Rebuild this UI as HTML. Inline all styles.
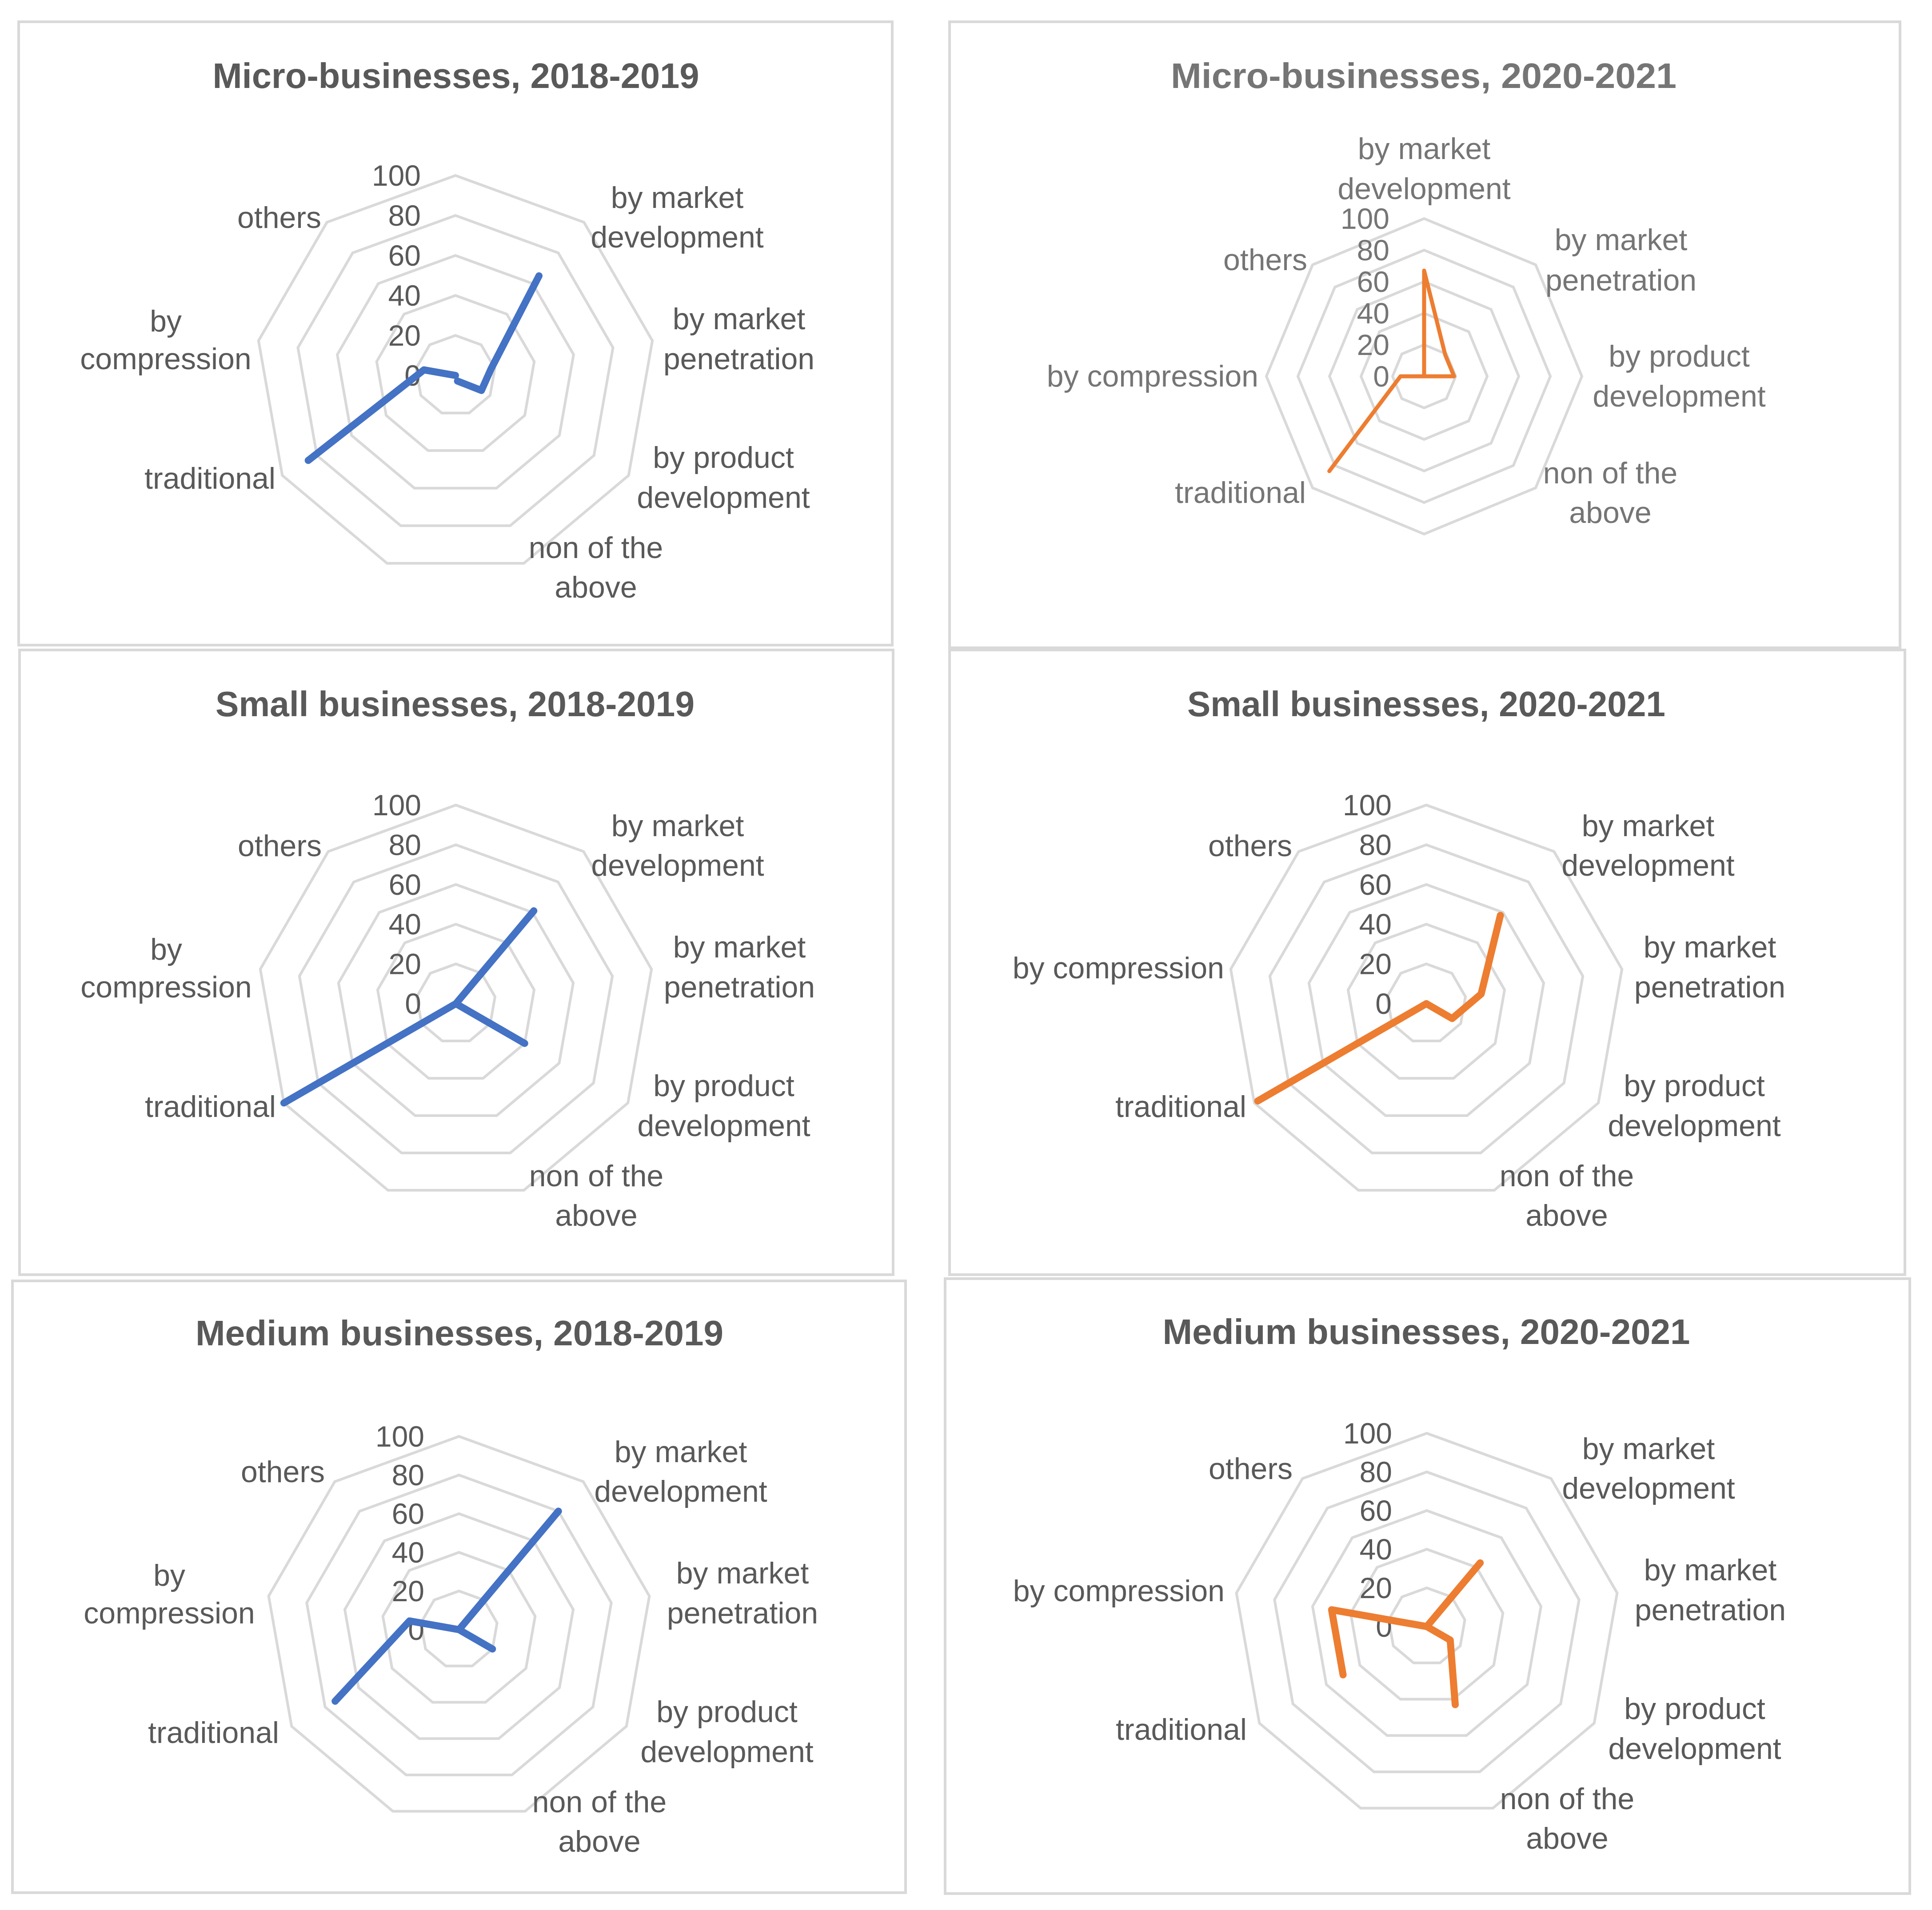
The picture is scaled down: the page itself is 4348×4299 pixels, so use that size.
<!DOCTYPE html>
<html><head><meta charset="utf-8"><style>
html,body{margin:0;padding:0;background:#fff;}
svg{display:block;}
text{font-family:"Liberation Sans",sans-serif;}
</style></head><body>
<svg id="root" width="4348" height="4299" viewBox="0 0 4348 4299" xmlns="http://www.w3.org/2000/svg"></svg>
<script>
// ---- data ----
const ticks = [0, 20, 40, 60, 80, 100];
const cats9 = ["", "by market development", "by market penetration", "by product development", "non of the above", "", "traditional", "by compression", "others"];
const cats8 = ["by market development", "by market penetration", "by product development", "non of the above", "", "traditional", "by compression", "others"];
const microA = [null, 65, 18, 15, 3, null, 85, 16, 0];
const microB = [67, 19, 19, 0, null, 85, 15, 0];
const smallA = [null, 61, 0, 40, 0, null, 100, 0, 0];
const smallB = [null, 58, 28, 15, 0, null, 98, 0, 0];
const mediumA = [null, 80, 0, 20, 0, null, 74, 26, 0];
const mediumB = [null, 43, 0, 14, 43, null, 50, 50, 0];

const NS = "http://www.w3.org/2000/svg";
const root = document.getElementById("root");
function mk(tag, attrs, parent){
  const e = document.createElementNS(NS, tag);
  for (const k in attrs) e.setAttribute(k, attrs[k]);
  (parent || root).appendChild(e);
  return e;
}

const layout9L = {
  "by market development": [["by market","development"],"middle",499,[-400,-311]],
  "by market penetration": [["by market","penetration"],"middle",638,[-127,-37]],
  "by product development": [["by product","development"],"middle",603,[185,275]],
  "non of the above": [["non of the","above"],"middle",316,[388,477]],
  "traditional": [["traditional"],"end",-405,[232]],
  "by compression": [["by","compression"],"middle",-652,[-122,-37]],
  "others": [["others"],"end",-302,[-355]]
};
const layout9R = Object.assign({}, layout9L, {
  "by compression": [["by compression"],"end",-455,[-80]]
});
const layout8 = {
  "by market development": [["by market","development"],"middle",0,[-512,-422]],
  "by market penetration": [["by market","penetration"],"middle",443,[-307,-216]],
  "by product development": [["by product","development"],"middle",574,[-45,45]],
  "non of the above": [["non of the","above"],"middle",419,[218,307]],
  "traditional": [["traditional"],"end",-266,[262]],
  "by compression": [["by compression"],"end",-373,[0]],
  "others": [["others"],"end",-263,[-262]]
};

const panels = [
  {id:"micro-2018", box:[42,49,1966,1403], title:"Micro-businesses, 2018-2019", tw:1095, tx:1026, ty:198, cx:1025, cy:845, r:450, cats:cats9, vals:microA, color:"#4472C4", lw:16, layout:layout9L, txt:"#595959"},
  {id:"micro-2020", box:[2137,49,2139,1409], title:"Micro-businesses, 2020-2021", tw:1138, tx:3204, ty:198, cx:3205, cy:847, r:355, cats:cats8, vals:microB, color:"#ED7D31", lw:9, layout:layout8, txt:"#757575"},
  {id:"small-2018", box:[44,1463,1966,1406], title:"Small businesses, 2018-2019", tw:1078, tx:1024, ty:1612, cx:1026, cy:2259, r:447, cats:cats9, vals:smallA, color:"#4472C4", lw:16, layout:layout9L, txt:"#595959"},
  {id:"small-2020", box:[2137,1463,2150,1406], title:"Small businesses, 2020-2021", tw:1076, tx:3210, ty:1612, cx:3210, cy:2259, r:447, cats:cats9, vals:smallB, color:"#ED7D31", lw:16, layout:layout9R, txt:"#595959"},
  {id:"medium-2018", box:[28,2883,2010,1377], title:"Medium businesses, 2018-2019", tw:1188, tx:1034, ty:3028, cx:1033, cy:3668, r:435, cats:cats9, vals:mediumA, color:"#4472C4", lw:16, layout:layout9L, txt:"#595959"},
  {id:"medium-2020", box:[2127,2878,2171,1384], title:"Medium businesses, 2020-2021", tw:1187, tx:3210, ty:3025, cx:3211, cy:3661, r:435, cats:cats9, vals:mediumB, color:"#ED7D31", lw:16, layout:layout9R, txt:"#595959"}
];

function pt(p, i, v){
  const n = p.cats.length;
  const a = i * 2 * Math.PI / n;
  const rr = p.r * v / 100;
  return [p.cx + rr * Math.sin(a), p.cy - rr * Math.cos(a)];
}

panels.forEach(p => {
  const g = mk("g", {});
  
  
  const b = mk("rect", {x:p.box[0], y:p.box[1], width:p.box[2], height:p.box[3], fill:"#fff", stroke:"#d9d9d9", "stroke-width":6}, g);
  
  
  const t = mk("text", {x:p.tx, y:p.ty, "text-anchor":"middle", "font-size":80, "font-weight":"bold", fill:p.txt, textLength:p.tw, lengthAdjust:"spacingAndGlyphs"}, g);
  t.textContent = p.title;
  
  
  ticks.slice(1).forEach(tv => {
    const pts = p.cats.map((c, i) => pt(p, i, tv).join(",")).join(" ");
    const ring = mk("polygon", {points:pts, fill:"none", stroke:"#d9d9d9", "stroke-width":6}, g);
    
    
  });
  ticks.forEach(tv => {
    const y = p.cy - p.r * tv / 100;
    const tl = mk("text", {x:p.cx - 78, y:y, "text-anchor":"end", "dominant-baseline":"central", "font-size":66, fill:p.txt}, g);
    tl.textContent = String(tv);
    
    
  });
  p.cats.forEach(c => {
    const L = p.layout[c];
    if (!c || !L) return;
    const tx = mk("text", {"text-anchor":L[1], "font-size":68, fill:p.txt}, g);
    
    
    L[0].forEach((line, k) => {
      const ts = mk("tspan", {x:p.cx + L[2], y:p.cy + L[3][k], "dominant-baseline":"central"}, tx);
      ts.textContent = line;
    });
  });
  let d = "", pen = false;
  p.vals.forEach((v, i) => {
    if (v === null) { pen = false; return; }
    const q = pt(p, i, v);
    d += (pen ? "L" : "M") + q[0].toFixed(1) + " " + q[1].toFixed(1) + " ";
    pen = true;
  });
  if (p.vals[0] !== null && p.vals[p.vals.length - 1] !== null) {
    const q = pt(p, 0, p.vals[0]);
    d += "L" + q[0].toFixed(1) + " " + q[1].toFixed(1);
  }
  const s = mk("path", {d:d, fill:"none", stroke:p.color, "stroke-width":p.lw, "stroke-linejoin":"round", "stroke-linecap":"round"}, g);
  
  
});
</script>
</body></html>
